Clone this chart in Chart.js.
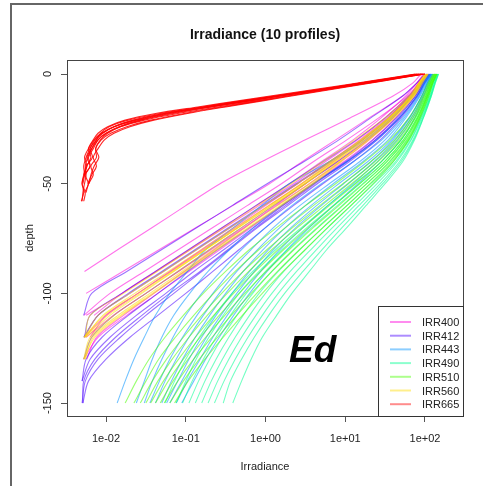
<!DOCTYPE html>
<html>
<head>
<meta charset="utf-8">
<script src="https://cdn.jsdelivr.net/npm/chart.js@4.4.1/dist/chart.umd.min.js"></script>
<style>
  html, body { margin: 0; padding: 0; background: #fff; }
  #wrap { width: 483px; height: 486px; }
</style>
</head>
<body>
<div id="wrap"><canvas id="irrChart" width="483" height="486"></canvas></div>
<script>
// depth grids (m)
const DEPTHS = [0, -4, -10, -20, -30, -40, -50, -60, -70, -80, -90, -100, -110, -120, -130, -140, -150];
const RED_DEPTHS = [0, -3, -6, -9, -12, -15, -18, -21, -24, -27, -30, -34, -38, -42, -46, -50, -54, -58];

const BANDS = ['IRR400', 'IRR412', 'IRR443', 'IRR490', 'IRR510', 'IRR560', 'IRR665'];
const X_TICKS = [0.01, 0.1, 1, 10, 100];
const X_TICK_LABELS = ['1e-02', '1e-01', '1e+00', '1e+01', '1e+02'];
const Y_TICKS = [0, -50, -100, -150];

// log10(irradiance) for each of the 10 profiles
const IRR400 = [
  [1.95, 1.85, 1.60, 1.06, 0.50, -0.05, -0.57, -1.00, -1.42, -1.85, -2.27],
  [2.00, 1.90, 1.72, 1.30, 0.88, 0.46, 0.05, -0.41, -0.87, -1.33, -1.79, -2.25],
  [2.02, 1.93, 1.78, 1.42, 1.02, 0.60, 0.20, -0.23, -0.66, -1.09, -1.52, -1.95, -2.28],
  [1.98, 1.90, 1.76, 1.45, 1.10, 0.70, 0.30, -0.12, -0.54, -0.96, -1.38, -1.80, -2.15],
  [2.03, 1.94, 1.80, 1.50, 1.15, 0.75, 0.35, -0.08, -0.51, -0.94, -1.37, -1.80, -2.25],
  [2.00, 1.92, 1.80, 1.55, 1.22, 0.85, 0.45, 0.04, -0.37, -0.78, -1.19, -1.60, -2.00, -2.27],
  [2.04, 1.95, 1.82, 1.52, 1.18, 0.80, 0.40, 0.00, -0.40, -0.80, -1.20, -1.60, -2.00, -2.20],
  [2.01, 1.94, 1.84, 1.60, 1.30, 0.94, 0.55, 0.14, -0.27, -0.68, -1.09, -1.50, -1.91, -2.25],
  [2.05, 1.97, 1.86, 1.63, 1.34, 0.98, 0.60, 0.21, -0.18, -0.57, -0.96, -1.35, -1.74, -2.10, -2.28],
  [1.99, 1.92, 1.82, 1.58, 1.26, 0.90, 0.50, 0.12, -0.26, -0.64, -1.02, -1.40, -1.78, -2.12, -2.24]
];
const IRR412 = [
  [2.00, 1.90, 1.72, 1.32, 0.92, 0.48, 0.02, -0.42, -0.86, -1.30, -1.74, -2.18, -2.28],
  [2.03, 1.94, 1.80, 1.50, 1.14, 0.72, 0.30, -0.12, -0.54, -0.96, -1.38, -1.80, -2.20, -2.27],
  [2.05, 1.96, 1.83, 1.56, 1.22, 0.82, 0.40, -0.02, -0.44, -0.86, -1.28, -1.70, -2.10, -2.28],
  [2.04, 1.96, 1.84, 1.60, 1.28, 0.90, 0.50, 0.10, -0.30, -0.70, -1.10, -1.50, -1.90, -2.18, -2.28],
  [2.06, 1.98, 1.88, 1.66, 1.38, 1.02, 0.60, 0.20, -0.20, -0.60, -0.98, -1.35, -1.72, -2.05, -2.25, -2.30],
  [2.06, 1.99, 1.90, 1.68, 1.40, 1.05, 0.65, 0.28, -0.10, -0.45, -0.80, -1.15, -1.50, -1.82, -2.10, -2.26, -2.30],
  [2.08, 2.00, 1.90, 1.68, 1.38, 1.02, 0.62, 0.25, -0.12, -0.47, -0.82, -1.20, -1.55, -1.88, -2.14, -2.28, -2.29],
  [2.05, 1.98, 1.88, 1.64, 1.35, 1.00, 0.60, 0.22, -0.15, -0.52, -0.90, -1.25, -1.62, -1.95, -2.20, -2.30],
  [2.07, 2.00, 1.91, 1.70, 1.44, 1.10, 0.72, 0.35, 0.00, -0.33, -0.66, -1.00, -1.35, -1.70, -2.00, -2.22, -2.29],
  [2.02, 1.94, 1.82, 1.54, 1.20, 0.80, 0.38, -0.04, -0.46, -0.88, -1.30, -1.72, -2.10, -2.27]
];
const IRR443 = [
  [2.05, 1.97, 1.85, 1.58, 1.25, 0.80, 0.30, -0.05, -0.40, -0.75, -0.98, -1.20, -1.38, -1.52, -1.65, -1.76, -1.86],
  [2.06, 1.99, 1.90, 1.68, 1.40, 1.02, 0.60, 0.20, -0.15, -0.45, -0.72, -0.95, -1.15, -1.30, -1.42, -1.52, -1.62],
  [2.07, 2.00, 1.92, 1.72, 1.46, 1.10, 0.70, 0.33, 0.00, -0.30, -0.56, -0.80, -1.00, -1.16, -1.30, -1.42, -1.52],
  [2.08, 2.01, 1.93, 1.74, 1.50, 1.18, 0.80, 0.43, 0.10, -0.18, -0.44, -0.66, -0.86, -1.04, -1.20, -1.33, -1.45],
  [2.08, 2.02, 1.94, 1.76, 1.54, 1.22, 0.85, 0.50, 0.18, -0.10, -0.36, -0.58, -0.78, -0.96, -1.12, -1.26, -1.38],
  [2.09, 2.03, 1.96, 1.80, 1.58, 1.28, 0.92, 0.57, 0.25, -0.03, -0.28, -0.50, -0.70, -0.88, -1.04, -1.18, -1.30],
  [2.09, 2.03, 1.96, 1.81, 1.60, 1.32, 0.98, 0.64, 0.32, 0.04, -0.20, -0.42, -0.62, -0.80, -0.96, -1.10, -1.24],
  [2.10, 2.04, 1.97, 1.83, 1.63, 1.36, 1.04, 0.70, 0.38, 0.10, -0.14, -0.36, -0.56, -0.74, -0.90, -1.05, -1.20],
  [2.10, 2.05, 1.98, 1.85, 1.66, 1.40, 1.10, 0.78, 0.47, 0.18, -0.06, -0.28, -0.48, -0.66, -0.82, -0.98, -1.12],
  [2.11, 2.06, 1.99, 1.87, 1.70, 1.45, 1.16, 0.85, 0.55, 0.27, 0.02, -0.20, -0.40, -0.58, -0.75, -0.90, -1.05]
];
const IRR490 = [
  [2.12, 2.07, 2.01, 1.88, 1.70, 1.45, 1.12, 0.78, 0.45, 0.13, -0.16, -0.42, -0.64, -0.83, -1.00, -1.14, -1.26],
  [2.13, 2.08, 2.02, 1.90, 1.73, 1.49, 1.18, 0.85, 0.52, 0.21, -0.08, -0.33, -0.53, -0.71, -0.87, -1.00, -1.12],
  [2.14, 2.09, 2.03, 1.91, 1.75, 1.52, 1.22, 0.90, 0.58, 0.28, 0.00, -0.24, -0.44, -0.62, -0.78, -0.92, -1.04],
  [2.14, 2.10, 2.04, 1.93, 1.78, 1.56, 1.27, 0.96, 0.65, 0.35, 0.08, -0.16, -0.36, -0.54, -0.70, -0.84, -0.96],
  [2.15, 2.10, 2.05, 1.94, 1.80, 1.60, 1.32, 1.02, 0.72, 0.43, 0.16, -0.08, -0.28, -0.46, -0.62, -0.76, -0.88],
  [2.15, 2.11, 2.06, 1.95, 1.82, 1.63, 1.36, 1.07, 0.78, 0.50, 0.23, 0.00, -0.20, -0.38, -0.54, -0.68, -0.80],
  [2.16, 2.12, 2.07, 1.96, 1.83, 1.65, 1.40, 1.12, 0.84, 0.57, 0.31, 0.08, -0.12, -0.30, -0.46, -0.60, -0.72],
  [2.16, 2.12, 2.07, 1.97, 1.85, 1.68, 1.44, 1.17, 0.90, 0.64, 0.39, 0.16, -0.04, -0.22, -0.38, -0.52, -0.64],
  [2.17, 2.13, 2.08, 1.98, 1.86, 1.70, 1.47, 1.22, 0.96, 0.71, 0.47, 0.24, 0.04, -0.14, -0.30, -0.44, -0.53],
  [2.17, 2.13, 2.08, 1.98, 1.87, 1.72, 1.50, 1.26, 1.02, 0.77, 0.55, 0.33, 0.14, -0.04, -0.18, -0.30, -0.41]
];
const IRR510 = [
  [2.10, 2.04, 1.96, 1.80, 1.56, 1.24, 0.88, 0.50, 0.14, -0.20, -0.50, -0.78, -1.03, -1.26, -1.46, -1.62, -1.76],
  [2.11, 2.05, 1.98, 1.83, 1.62, 1.32, 0.97, 0.60, 0.25, -0.08, -0.38, -0.65, -0.90, -1.13, -1.34, -1.50, -1.65],
  [2.12, 2.06, 1.99, 1.85, 1.65, 1.37, 1.03, 0.68, 0.34, 0.02, -0.28, -0.55, -0.80, -1.03, -1.24, -1.42, -1.57],
  [2.12, 2.07, 2.00, 1.87, 1.68, 1.41, 1.08, 0.74, 0.40, 0.08, -0.21, -0.48, -0.73, -0.96, -1.17, -1.35, -1.50],
  [2.13, 2.07, 2.01, 1.88, 1.70, 1.45, 1.13, 0.80, 0.47, 0.16, -0.13, -0.40, -0.65, -0.88, -1.09, -1.28, -1.44],
  [2.13, 2.08, 2.02, 1.90, 1.73, 1.49, 1.18, 0.86, 0.54, 0.23, -0.06, -0.33, -0.58, -0.82, -1.03, -1.22, -1.38],
  [2.14, 2.09, 2.03, 1.91, 1.75, 1.52, 1.23, 0.92, 0.60, 0.30, 0.01, -0.26, -0.51, -0.75, -0.97, -1.16, -1.32],
  [2.14, 2.09, 2.03, 1.92, 1.77, 1.55, 1.27, 0.97, 0.66, 0.36, 0.08, -0.18, -0.43, -0.67, -0.90, -1.10, -1.27],
  [2.15, 2.10, 2.04, 1.93, 1.79, 1.58, 1.31, 1.02, 0.72, 0.43, 0.15, -0.11, -0.36, -0.60, -0.83, -1.03, -1.20],
  [2.15, 2.10, 2.05, 1.94, 1.80, 1.60, 1.35, 1.07, 0.78, 0.50, 0.22, -0.04, -0.29, -0.53, -0.76, -0.97, -1.14]
];
const IRR560 = [
  [2.00, 1.92, 1.80, 1.50, 1.12, 0.72, 0.32, -0.10, -0.52, -0.94, -1.36, -1.78, -2.20, -2.26],
  [2.02, 1.94, 1.83, 1.55, 1.20, 0.80, 0.40, -0.02, -0.44, -0.86, -1.28, -1.70, -2.10, -2.27],
  [2.01, 1.93, 1.82, 1.54, 1.19, 0.82, 0.45, 0.05, -0.35, -0.75, -1.15, -1.55, -1.95, -2.25],
  [2.03, 1.95, 1.85, 1.58, 1.25, 0.88, 0.50, 0.10, -0.30, -0.70, -1.10, -1.50, -1.90, -2.20, -2.28],
  [2.00, 1.93, 1.82, 1.56, 1.22, 0.85, 0.48, 0.07, -0.34, -0.75, -1.16, -1.57, -1.98, -2.27],
  [2.04, 1.96, 1.86, 1.60, 1.28, 0.92, 0.55, 0.15, -0.25, -0.65, -1.05, -1.45, -1.85, -2.18, -2.27],
  [2.02, 1.94, 1.84, 1.57, 1.24, 0.87, 0.50, 0.08, -0.34, -0.76, -1.18, -1.60, -2.02, -2.28],
  [2.03, 1.95, 1.85, 1.60, 1.28, 0.93, 0.58, 0.18, -0.22, -0.62, -1.02, -1.42, -1.82, -2.16, -2.26],
  [2.01, 1.93, 1.83, 1.55, 1.21, 0.84, 0.46, 0.04, -0.38, -0.80, -1.22, -1.64, -2.04, -2.26],
  [2.04, 1.97, 1.87, 1.62, 1.30, 0.95, 0.60, 0.20, -0.20, -0.60, -1.00, -1.40, -1.80, -2.14, -2.28]
];
const IRR665 = [
  [1.98, 1.45, 0.92, 0.38, -0.16, -0.70, -1.20, -1.58, -1.84, -2.00, -2.10, -2.18, -2.23, -2.26, -2.25, -2.27, -2.29, -2.30],
  [1.95, 1.42, 0.88, 0.33, -0.22, -0.77, -1.28, -1.66, -1.90, -2.04, -2.12, -2.18, -2.24, -2.20, -2.26, -2.22, -2.27],
  [2.00, 1.50, 1.00, 0.50, 0.00, -0.50, -0.98, -1.40, -1.70, -1.90, -2.02, -2.10, -2.16, -2.12, -2.18, -2.23],
  [1.90, 1.38, 0.85, 0.30, -0.25, -0.80, -1.32, -1.72, -1.96, -2.07, -2.12, -2.20, -2.17, -2.25, -2.28],
  [2.00, 1.48, 0.96, 0.44, -0.08, -0.60, -1.10, -1.52, -1.82, -2.00, -2.10, -2.16, -2.22, -2.20, -2.27, -2.30, -2.26, -2.28],
  [1.93, 1.40, 0.86, 0.32, -0.22, -0.76, -1.26, -1.64, -1.90, -2.05, -2.14, -2.20, -2.25, -2.28, -2.27, -2.29],
  [1.96, 1.46, 0.96, 0.46, -0.04, -0.54, -1.02, -1.44, -1.74, -1.94, -2.06, -2.13, -2.12, -2.19, -2.16, -2.22, -2.25],
  [1.88, 1.35, 0.80, 0.25, -0.30, -0.85, -1.38, -1.76, -1.98, -2.10, -2.16, -2.22, -2.19, -2.24, -2.27],
  [1.97, 1.44, 0.90, 0.36, -0.18, -0.72, -1.23, -1.62, -1.90, -2.06, -2.15, -2.22, -2.27, -2.24, -2.28, -2.30, -2.28, -2.31],
  [1.92, 1.40, 0.88, 0.36, -0.16, -0.68, -1.16, -1.56, -1.82, -1.98, -2.07, -2.13, -2.09, -2.15, -2.19, -2.21]
];

// R rainbow(7), reversed
const BAND_RGB = ['255,0,219', '73,0,255', '0,146,255', '0,255,146', '73,255,0', '255,219,0', '255,0,0'];

const bandProfiles = [IRR400, IRR412, IRR443, IRR490, IRR510, IRR560, IRR665];
const datasets = [];
bandProfiles.forEach((profiles, b) => {
  const depths = b === 6 ? RED_DEPTHS : DEPTHS;
  profiles.forEach(p => {
    datasets.push({
      label: BANDS[b],
      data: p.map((v, i) => ({ x: Math.pow(10, v), y: depths[i] })),
      showLine: true,
      borderColor: 'rgba(' + BAND_RGB[b] + ',' + (b === 6 ? 0.85 : 0.55) + ')',
      borderWidth: 1.1,
      pointRadius: 0,
      tension: 0.3,
      order: 6 - b
    });
  });
});

const FONT = "'Liberation Sans', Arial, sans-serif";
Chart.defaults.font.family = FONT;
Chart.defaults.color = '#222';

const decor = {
  id: 'decor',
  afterDatasetsDraw(chart) {
    const { ctx, chartArea: a } = chart;
    ctx.save();
    ctx.strokeStyle = '#444';
    ctx.lineWidth = 1;
    ctx.strokeRect(a.left + 0.5, a.top + 0.5, a.right - a.left, a.bottom - a.top);
    ctx.restore();
  },
  afterDraw(chart) {
    const { ctx, chartArea: a } = chart;
    ctx.save();
    // outer frame
    ctx.strokeStyle = '#666';
    ctx.lineWidth = 2;
    ctx.beginPath();
    ctx.moveTo(11, 486);
    ctx.lineTo(11, 4);
    ctx.lineTo(483, 4);
    ctx.stroke();

    // title
    ctx.fillStyle = '#111';
    ctx.font = 'bold 14px ' + FONT;
    ctx.textAlign = 'center';
    ctx.textBaseline = 'middle';
    ctx.fillText('Irradiance (10 profiles)', (a.left + a.right) / 2, 35);

    // legend
    const lw = 85, lh = 110;
    const lx = a.right - lw, ly = a.bottom - lh;
    ctx.fillStyle = '#fff';
    ctx.fillRect(lx, ly, lw, lh);
    ctx.strokeStyle = '#333';
    ctx.lineWidth = 1;
    ctx.strokeRect(lx + 0.5, ly + 0.5, lw, lh);
    ctx.font = '11px ' + FONT;
    ctx.textAlign = 'left';
    BANDS.forEach((name, i) => {
      const yy = ly + 16 + i * 13.7;
      ctx.strokeStyle = 'rgba(' + BAND_RGB[i] + ',0.45)';
      ctx.lineWidth = 2;
      ctx.beginPath();
      ctx.moveTo(lx + 12, yy);
      ctx.lineTo(lx + 33, yy);
      ctx.stroke();
      ctx.fillStyle = '#222';
      ctx.fillText(name, lx + 44, yy + 1);
    });

    // annotation
    ctx.fillStyle = '#000';
    ctx.font = "italic bold 37px 'Liberation Sans', Arial, sans-serif";
    ctx.textBaseline = 'alphabetic';
    ctx.fillText('Ed', 289, 362);
    ctx.restore();
  }
};

new Chart(document.getElementById('irrChart'), {
  type: 'scatter',
  data: { datasets: datasets },
  options: {
    responsive: false,
    animation: false,
    layout: { padding: { top: 60, right: 20, left: 0, bottom: 0 } },
    plugins: {
      legend: { display: false },
      tooltip: { enabled: false },
      title: { display: false }
    },
    scales: {
      x: {
        type: 'logarithmic',
        min: 0.00324,
        max: 300,
        bounds: 'data',
        afterBuildTicks: s => { s.ticks = X_TICKS.map(v => ({ value: v })); },
        afterFit: s => { s.height = 70; },
        ticks: {
          autoSkip: false,
          maxRotation: 0,
          padding: 10,
          font: { size: 11 },
          color: '#222',
          callback: (v) => X_TICK_LABELS[X_TICKS.indexOf(v)]
        },
        grid: { drawOnChartArea: false, drawTicks: true, tickLength: 6, color: '#555' },
        border: { display: false },
        title: { display: true, text: 'Irradiance', font: { size: 11 }, color: '#222', padding: { top: 0, bottom: 12 } }
      },
      y: {
        type: 'linear',
        min: -155.9,
        max: 6.4,
        bounds: 'data',
        afterBuildTicks: s => { s.ticks = Y_TICKS.map(v => ({ value: v })); },
        afterFit: s => { s.width = 67; },
        ticks: {
          minRotation: 90,
          maxRotation: 90,
          crossAlign: 'center',
          padding: 2,
          font: { size: 11 },
          color: '#222'
        },
        grid: { drawOnChartArea: false, drawTicks: true, tickLength: 6, color: '#555' },
        border: { display: false },
        title: { display: true, text: 'depth', font: { size: 11 }, color: '#222', padding: { top: 23, bottom: 0 } }
      }
    }
  },
  plugins: [decor]
});
</script>
</body>
</html>
